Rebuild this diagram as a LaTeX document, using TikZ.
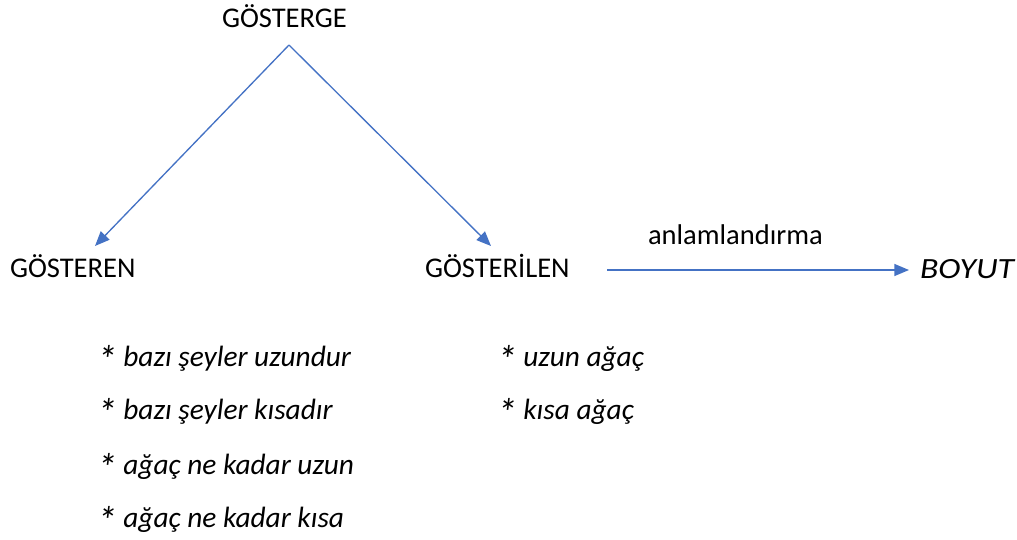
\documentclass[tikz,border=0pt]{standalone}
\usepackage{fontspec}
\setmainfont{Carlito}
\usetikzlibrary{arrows.meta}
\definecolor{lineblue}{HTML}{4472C4}
\newcommand{\bigast}{\raisebox{-5.5pt}{\scalebox{1.35}{*}}}
\tikzset{
  lbl/.style={anchor=base west, inner sep=0pt, outer sep=0pt, font=\fontsize{21.4}{25}\selectfont},
  itl/.style={lbl, font=\fontsize{22}{25}\selectfont\itshape},
  conn/.style={draw=lineblue, line width=1pt, -{Triangle[length=11pt,width=9pt]}, color=lineblue}
}
\begin{document}
\begin{tikzpicture}[x=0.75pt,y=-0.75pt]
\useasboundingbox (0,0) rectangle (1017,539);
\node[lbl] (gosterge) at (222,27) {GÖSTERGE};
\node[lbl] (gosteren) at (10,277) {GÖSTEREN};
\node[lbl] (gosterilen) at (425,277) {GÖSTERİLEN};
\node[lbl] (anlam) at (648,244) {anlamlandırma};
\node[itl] (boyut) at (920,278) {\scalebox{1.15}[1]{BOYUT}};
\node[itl] (l1) at (97,366) {\bigast{} bazı şeyler uzundur};
\node[itl] (l2) at (97,419) {\bigast{} bazı şeyler kısadır};
\node[itl] (l3) at (97,474) {\bigast{} ağaç ne kadar uzun};
\node[itl] (l4) at (97,527) {\bigast{} ağaç ne kadar kısa};
\node[itl] (r1) at (497,366) {\bigast{} uzun ağaç};
\node[itl] (r2) at (497,419) {\bigast{} kısa ağaç};
\coordinate (apex) at (289,45);
\coordinate (leftend) at (95,246);
\coordinate (rightend) at (491,246);
\coordinate (hstart) at (607,270);
\coordinate (hend) at (909,270);
\draw[conn] (apex) -- (leftend);
\draw[conn] (apex) -- (rightend);
\draw[conn] (hstart) -- (hend);
\end{tikzpicture}
\end{document}
